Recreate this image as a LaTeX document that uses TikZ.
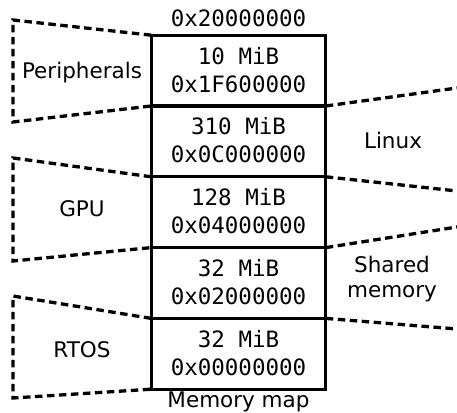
\documentclass[tikz,border=0pt]{standalone}
\usepackage{fontspec}
\setmainfont{DejaVu Sans}
\setmonofont{DejaVu Sans Mono}
\usetikzlibrary{positioning}
\tikzset{
  memrow/.style={draw, line width=1.6pt, minimum width=173pt, minimum height=69.2pt, inner sep=0pt},
  memtext/.style={anchor=base, inner sep=0pt, font=\fontsize{22.5}{28}\selectfont\ttfamily},
  region/.style={dash pattern=on 7.5pt off 4.5pt, line width=3.3pt},
  areatext/.style={anchor=base, inner sep=0pt, font=\fontsize{21.5}{25}\selectfont, align=center}
}
\begin{document}
\begin{tikzpicture}[x=1pt,y=1pt]
\useasboundingbox (0,0) rectangle (457,412);
% memory map rows, top to bottom
\node[memrow] (r1) at (238.5,341.4) {};
\node[memrow, below=0pt of r1] (r2) {};
\node[memrow, below=0pt of r2] (r3) {};
\node[memrow, below=0pt of r3] (r4) {};
\node[memrow, below=0pt of r4] (r5) {};
\foreach \i/\size/\addr in {1/10 MiB/0x1F600000, 2/310 MiB/0x0C000000,
    3/128 MiB/0x04000000, 4/32 MiB/0x02000000, 5/32 MiB/0x00000000} {
  \node[memtext] (s\i) at ([yshift=-29pt]r\i.north) {\size};
  \node[memtext] (a\i) at ([yshift=-57pt]r\i.north) {\addr};
}
\draw[line width=3.3pt] (r1.north west) rectangle (r5.south east);
\node[memtext] (top) at (238.5,385) {0x20000000};
\node[areatext] (map) at (238.5,5) {Memory map};
% left side regions
\draw[region] (r1.north west) -- (13,392) -- (13,290) -- (r1.south west);
\draw[region] (r3.north west) -- (13,254) -- (13,151) -- (r3.south west);
\draw[region] (r5.north west) -- (13,116) -- (13,14) -- (r5.south west);
\node[areatext] (periph) at (82,333) {Peripherals};
\node[areatext] (gpu) at (82,195) {GPU};
\node[areatext] (rtos) at (82,55) {RTOS};
% right side regions
\draw[region] (r2.north east) -- (457,324);
\draw[region] (r2.south east) -- (457,221);
\draw[region] (r4.north east) -- (457,185);
\draw[region] (r4.south east) -- (457,83);
\node[areatext] (linux) at (393,263) {Linux};
\node[areatext] (shared) at (392,114) {Shared\\memory};
\end{tikzpicture}
\end{document}
